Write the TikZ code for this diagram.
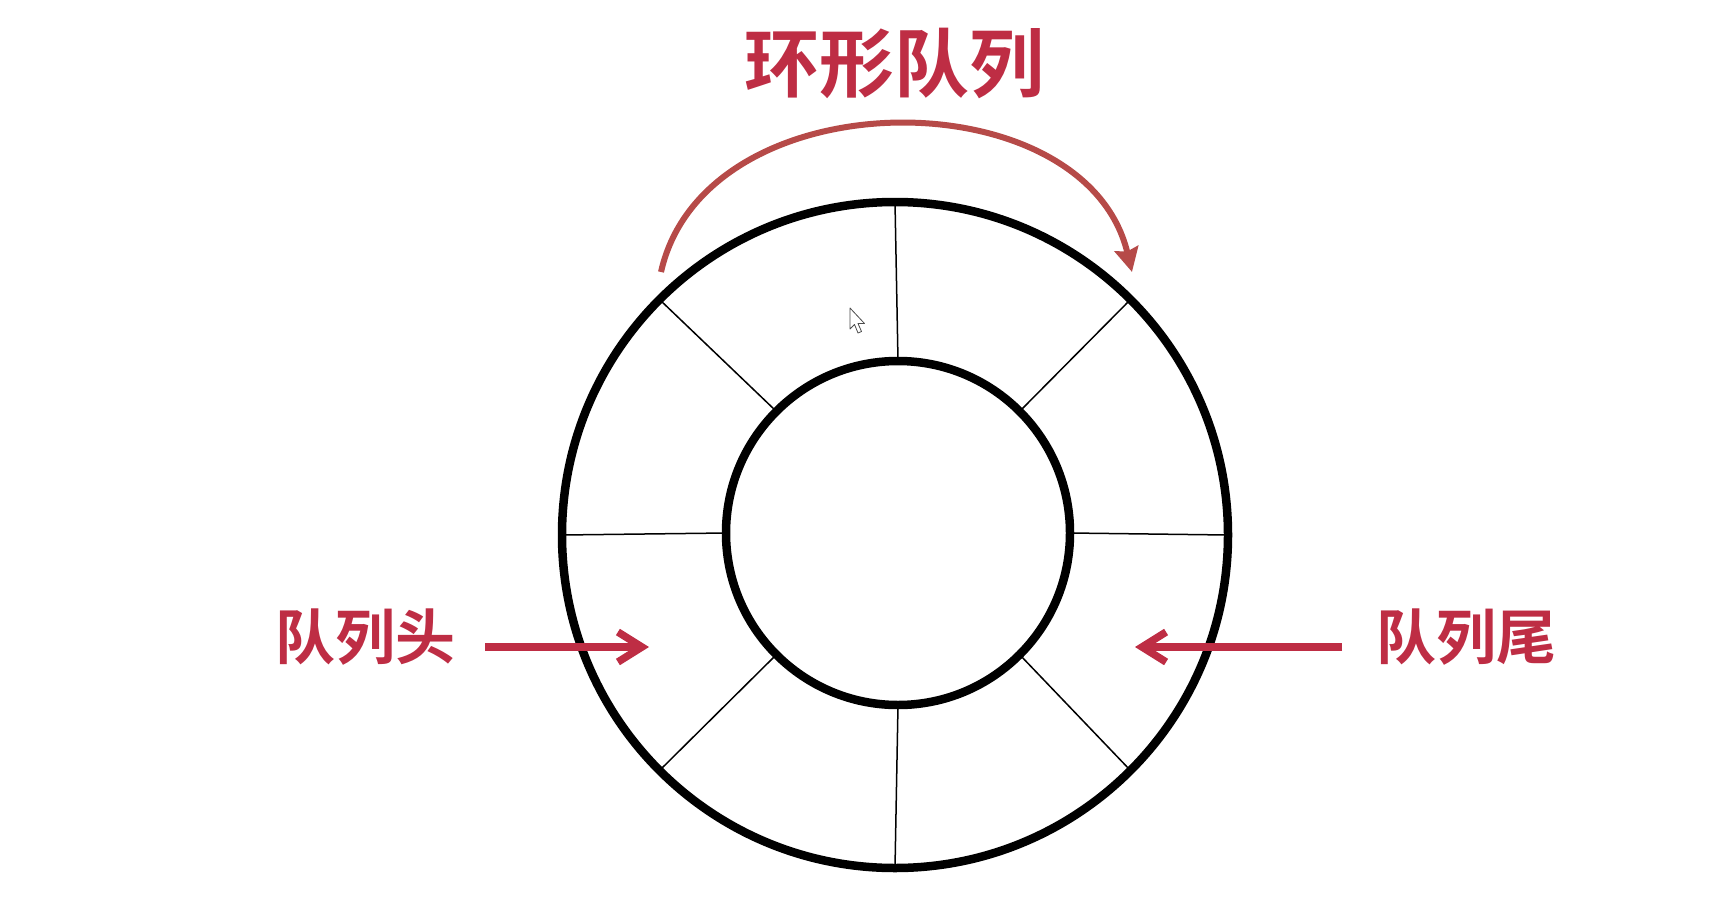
\documentclass[tikz,border=0pt]{standalone}
\usepackage{fontspec}
\newfontfamily\cjk{Noto Sans CJK SC Bold}
\usetikzlibrary{arrows.meta}
\definecolor{arcred}{HTML}{B64A48}
\definecolor{txtred}{HTML}{BE2D44}
\begin{document}
\begin{tikzpicture}[x=1pt,y=-1pt,
  ring/.style={circle,draw=black,line width=8.5pt,inner sep=0pt,outer sep=0pt},
  spoke/.style={draw=black,line width=1.5pt},
  lbl/.style={text=txtred,font=\cjk\fontsize{60}{60}\selectfont,inner sep=0pt},
  ttl/.style={text=txtred,font=\cjk\fontsize{75}{75}\selectfont,inner sep=0pt},
  redarrow/.style={draw=txtred,line width=7.5pt,-{Straight Barb[length=24pt,width=30pt]}},
  arcarrow/.style={draw=arcred,line width=6pt,-{Stealth[length=24pt,width=24pt,inset=3pt]}}
]
\useasboundingbox (0,0) rectangle (1727,905);
\fill[white] (0,0) rectangle (1727,905);

% ring
\node[ring,minimum size=666pt] (outer) at (895,535) {};
\node[ring,minimum size=344pt] (inner) at (898,533) {};
\foreach \a in {0,45,...,315}{
  \draw[spoke] (inner.\a) -- (outer.\a);
}

% title and curved arrow
\node[ttl] (title) at (894,63) {环形队列};
\coordinate (arcS) at (661,272);
\coordinate (arcE) at (1132,272);
\draw[arcarrow] (arcS) .. controls (705,76) and (1085,76) .. (arcE);

% head and tail labels
\node[lbl] (head) at (365,637) {队列头};
\node[lbl] (tail) at (1466,637) {队列尾};
\coordinate (hS) at (485,647);
\coordinate (hE) at (649,647);
\coordinate (tS) at (1342,647);
\coordinate (tE) at (1135,647);
\draw[redarrow] (hS) -- (hE);
\draw[redarrow] (tS) -- (tE);

% mouse pointer
\draw[fill=white,draw=gray!60!black,line width=0.8pt,line join=round]
  (850,308) -- (850,329) -- (854.5,324.5) -- (858,333) -- (861.5,331.5)
  -- (858,323.5) -- (864.5,323.5) -- cycle;
\end{tikzpicture}
\end{document}
